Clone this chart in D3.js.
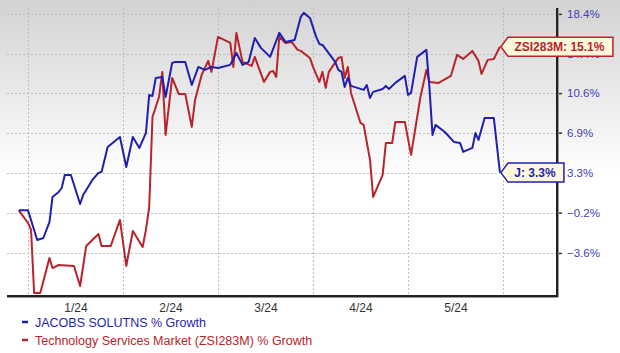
<!DOCTYPE html>
<html>
<head>
<meta charset="utf-8">
<script src="https://cdn.jsdelivr.net/npm/d3@7"></script>
<style>
  html, body { margin: 0; padding: 0; background: #fff; }
  svg { display: block; }
  text { font-family: "Liberation Sans", Arial, sans-serif; }
</style>
</head>
<body>
<svg id="chart" width="620" height="353"></svg>
<script>
// ---------- DATA ----------
const monthStarts = ["2024-01-01", "2024-02-01", "2024-03-01", "2024-04-01", "2024-05-01", "2024-06-01"];
const monthLabels = ["1/24", "2/24", "3/24", "4/24", "5/24"];
const yTickValues = [-3.6, -0.2, 3.3, 6.9, 10.6, 14.4, 18.4];
const yDomain = [-7.1, 19.0];

const seriesNames = ["JACOBS SOLUTNS % Growth", "Technology Services Market (ZSI283M) % Growth"];
const tagLabels = ["J: 3.3%", "ZSI283M: 15.1%"];

const jDates = ["2023-12-29","2024-01-01","2024-01-03","2024-01-04","2024-01-06","2024-01-08","2024-01-09","2024-01-11","2024-01-12","2024-01-13",
  "2024-01-15","2024-01-18","2024-01-19","2024-01-22","2024-01-24","2024-01-25","2024-01-27","2024-01-31","2024-02-02","2024-02-04",
  "2024-02-06","2024-02-08","2024-02-09","2024-02-10","2024-02-11","2024-02-13","2024-02-14","2024-02-16","2024-02-17","2024-02-20",
  "2024-02-22","2024-02-24","2024-02-26","2024-02-28","2024-03-01","2024-03-05","2024-03-07","2024-03-09","2024-03-11","2024-03-13",
  "2024-03-15","2024-03-18","2024-03-21","2024-03-23","2024-03-26","2024-03-28","2024-03-29","2024-03-31","2024-04-02","2024-04-03",
  "2024-04-04","2024-04-08","2024-04-09","2024-04-10","2024-04-11","2024-04-12","2024-04-13","2024-04-15","2024-04-17","2024-04-18",
  "2024-04-19","2024-04-20","2024-04-23","2024-04-24","2024-04-25","2024-04-27","2024-04-30","2024-05-01","2024-05-02","2024-05-04",
  "2024-05-07","2024-05-08","2024-05-09","2024-05-10","2024-05-13","2024-05-16","2024-05-18","2024-05-19","2024-05-22","2024-05-23",
  "2024-05-24","2024-05-26","2024-05-29","2024-05-31"];
const jValues = [0.0, 0.0, -1.67, -2.52, -2.35, -1.0, 1.16, 1.59, 1.94, 3.09,
  3.09, 0.55, 1.33, 2.65, 3.27, 3.36, 5.6, 6.51, 3.8, 6.51,
  5.51, 6.88, 10.43, 10.34, 12.06, 12.15, 10.24, 13.51, 13.61, 13.61,
  11.38, 13.12, 12.83, 13.12, 13.02, 13.32, 14.49, 13.32, 13.61, 15.98,
  14.99, 14.1, 16.48, 15.58, 15.78, 18.09, 18.5, 17.99, 16.08, 15.38,
  15.28, 13.61, 12.83, 12.64, 11.19, 12.06, 11.29, 11.1, 10.91, 11.38,
  10.15, 10.72, 11.0, 11.29, 11.0, 11.58, 12.25, 10.43, 10.62, 14.1,
  14.79, 11.1, 6.7, 7.62, 6.97, 6.06, 5.96, 5.15, 5.51, 6.88,
  6.24, 8.27, 8.27, 3.3];

const zDates = ["2023-12-29","2024-01-01","2024-01-02","2024-01-03","2024-01-05","2024-01-08","2024-01-09","2024-01-11","2024-01-16","2024-01-18",
  "2024-01-20","2024-01-24","2024-01-25","2024-01-28","2024-01-31","2024-02-02","2024-02-04","2024-02-07","2024-02-08","2024-02-09",
  "2024-02-10","2024-02-12","2024-02-13","2024-02-14","2024-02-16","2024-02-18","2024-02-20","2024-02-22","2024-02-23","2024-02-25",
  "2024-02-27","2024-02-28","2024-03-01","2024-03-05","2024-03-06","2024-03-07","2024-03-09","2024-03-12","2024-03-13","2024-03-16",
  "2024-03-18","2024-03-19","2024-03-20","2024-03-21","2024-03-23","2024-03-25","2024-03-27","2024-03-28","2024-03-31","2024-04-01",
  "2024-04-03","2024-04-04","2024-04-05","2024-04-06","2024-04-09","2024-04-10","2024-04-11","2024-04-12","2024-04-13","2024-04-16",
  "2024-04-17","2024-04-19","2024-04-20","2024-04-23","2024-04-24","2024-04-26","2024-04-27","2024-04-30","2024-05-02","2024-05-05",
  "2024-05-07","2024-05-08","2024-05-11","2024-05-15","2024-05-17","2024-05-19","2024-05-22","2024-05-24","2024-05-25","2024-05-27",
  "2024-05-29","2024-05-31"];
const zValues = [0.0, -1.08, -1.67, -6.86, -6.86, -4.01, -4.84, -4.59, -4.67, -6.3,
  -3.02, -2.01, -3.02, -3.02, -0.82, -4.67, -1.76, -3.1, -1.67, 0.29,
  8.36, 10.24, 12.64, 6.7, 12.06, 10.53, 10.53, 7.43, 9.96, 12.35,
  13.71, 12.64, 16.08, 15.48, 13.12, 16.48, 13.61, 13.22, 14.1, 11.67,
  12.64, 12.73, 12.15, 16.08, 15.48, 15.58, 14.79, 14.69, 14.0, 13.12,
  11.67, 12.64, 11.1, 12.64, 14.0, 14.1, 12.06, 13.12, 10.62, 7.8,
  7.62, 4.43, 1.16, 3.09, 5.96, 5.96, 7.9, 7.9, 4.88, 10.15,
  12.83, 11.67, 11.58, 12.25, 14.3, 13.9, 14.69, 13.71, 12.44, 13.81,
  13.9, 15.1];

// ---------- LAYOUT ----------
const W = 620, H = 353;
const plot = { left: 7, right: 557, top: 8, bottom: 296 };
const firstMonthX = 28, monthStep = 95;
const colors = { blue: "#1f1fb0", red: "#b8242b", axisText: "#4141b5", grid: "#bdbdbd" };

const parse = d3.timeParse("%Y-%m-%d");
const svg = d3.select("#chart");

// background gradient
const defs = svg.append("defs");
const grad = defs.append("linearGradient").attr("id", "bg").attr("x1", 0).attr("y1", 0).attr("x2", 0).attr("y2", 1);
grad.append("stop").attr("offset", "0%").attr("stop-color", "#d2d2d2");
grad.append("stop").attr("offset", "50%").attr("stop-color", "#ffffff");
grad.append("stop").attr("offset", "100%").attr("stop-color", "#ffffff");
svg.append("rect").attr("width", W).attr("height", H).attr("fill", "url(#bg)");

// scales
const x = d3.scaleTime()
  .domain(monthStarts.map(parse))
  .range(monthStarts.map((_, i) => firstMonthX + i * monthStep));
const y = d3.scaleLog()
  .domain(yDomain.map(v => 1 + v / 100))
  .range([plot.bottom, plot.top]);

// grid
const g = svg.append("g");
g.selectAll("line.hgrid").data(yTickValues).join("line")
  .attr("x1", plot.left).attr("x2", plot.right)
  .attr("y1", d => Math.round(y(1 + d / 100)) + 0.5).attr("y2", d => Math.round(y(1 + d / 100)) + 0.5)
  .attr("stroke", colors.grid).attr("stroke-width", 1).attr("stroke-dasharray", "2,2");
g.selectAll("line.vgrid").data(monthStarts).join("line")
  .attr("x1", d => Math.round(x(parse(d))) + 0.5).attr("x2", d => Math.round(x(parse(d))) + 0.5)
  .attr("y1", plot.top).attr("y2", plot.bottom)
  .attr("stroke", colors.grid).attr("stroke-width", 1).attr("stroke-dasharray", "2,2");

// axes
const yAxis = d3.axisRight(y)
  .tickValues(yTickValues.map(v => 1 + v / 100))
  .tickFormat(v => d3.format(".1f")((v - 1) * 100) + "%")
  .tickSize(5).tickPadding(5);
const ya = svg.append("g").attr("transform", `translate(${plot.right},0)`).call(yAxis);
ya.select(".domain").remove();
ya.selectAll(".tick line").attr("stroke", "#333").attr("stroke-width", 1.5);
ya.selectAll(".tick text").attr("fill", colors.axisText)
  .attr("font-family", "'DejaVu Sans', Verdana, sans-serif").style("font-size", "11.5px");

const mids = monthLabels.map((lab, i) => ({ lab, d: new Date((parse(monthStarts[i]).getTime() + parse(monthStarts[i + 1]).getTime()) / 2) }));
const xAxis = d3.axisBottom(x).tickValues(mids.map(m => m.d)).tickFormat((d, i) => monthLabels[i]).tickSize(0).tickPadding(7);
const xa = svg.append("g").attr("transform", `translate(0,${plot.bottom})`).call(xAxis);
xa.select(".domain").remove();
xa.selectAll(".tick text").attr("fill", "#333").style("font-size", "12px")
  .attr("font-family", "'DejaVu Sans', Verdana, sans-serif");

// axis frame lines (with soft shadow)
svg.append("line").attr("x1", plot.left).attr("x2", plot.right + 1).attr("y1", plot.bottom + 1.5).attr("y2", plot.bottom + 1.5)
  .attr("stroke", "#999").attr("stroke-width", 1);
svg.append("line").attr("x1", plot.right + 1.5).attr("x2", plot.right + 1.5).attr("y1", plot.top).attr("y2", plot.bottom + 1)
  .attr("stroke", "#999").attr("stroke-width", 1);
svg.append("line").attr("x1", plot.left).attr("x2", plot.right + 1).attr("y1", plot.bottom).attr("y2", plot.bottom)
  .attr("stroke", "#222").attr("stroke-width", 2);
svg.append("line").attr("x1", plot.right).attr("x2", plot.right).attr("y1", plot.top).attr("y2", plot.bottom + 1)
  .attr("stroke", "#222").attr("stroke-width", 2);

// lines
const line = d3.line().x(d => x(d.date)).y(d => y(1 + d.v / 100));
const jData = jDates.map((d, i) => ({ date: parse(d), v: jValues[i] }));
const zData = zDates.map((d, i) => ({ date: parse(d), v: zValues[i] }));
svg.append("path").datum(zData).attr("d", line).attr("fill", "none")
  .attr("stroke", colors.red).attr("stroke-width", 2).attr("stroke-linejoin", "round");
svg.append("path").datum(jData).attr("d", line).attr("fill", "none")
  .attr("stroke", colors.blue).attr("stroke-width", 2).attr("stroke-linejoin", "round");

// end tags
function tag(last, text, color, w) {
  const px = x(last.date), py = y(1 + last.v / 100);
  const h = 19, ax = px + 1, bx = ax + 7;
  const gg = svg.append("g");
  gg.append("path")
    .attr("d", `M${ax},${py} L${bx},${py - h / 2} L${bx + w},${py - h / 2} L${bx + w},${py + h / 2} L${bx},${py + h / 2} Z`)
    .attr("fill", "#fdf8dc").attr("stroke", color).attr("stroke-width", 1.5);
  gg.append("text").attr("x", bx + w / 2 - 1).attr("y", py + 4.5).attr("text-anchor", "middle")
    .attr("fill", color).attr("font-weight", "bold").style("font-size", "12px").text(text);
}
tag(zData[zData.length - 1], tagLabels[1], colors.red, 105);
tag(jData[jData.length - 1], tagLabels[0], colors.blue, 56);

// legend
const legend = svg.append("g");
[colors.blue, colors.red].forEach((c, i) => {
  const ly = 322 + i * 18;
  legend.append("line").attr("x1", 22).attr("x2", 28).attr("y1", ly).attr("y2", ly).attr("stroke", c).attr("stroke-width", 2.5);
  legend.append("text").attr("x", 35).attr("y", ly + 4.5).attr("fill", c).style("font-size", "12.5px").text(seriesNames[i]);
});
</script>
</body>
</html>
